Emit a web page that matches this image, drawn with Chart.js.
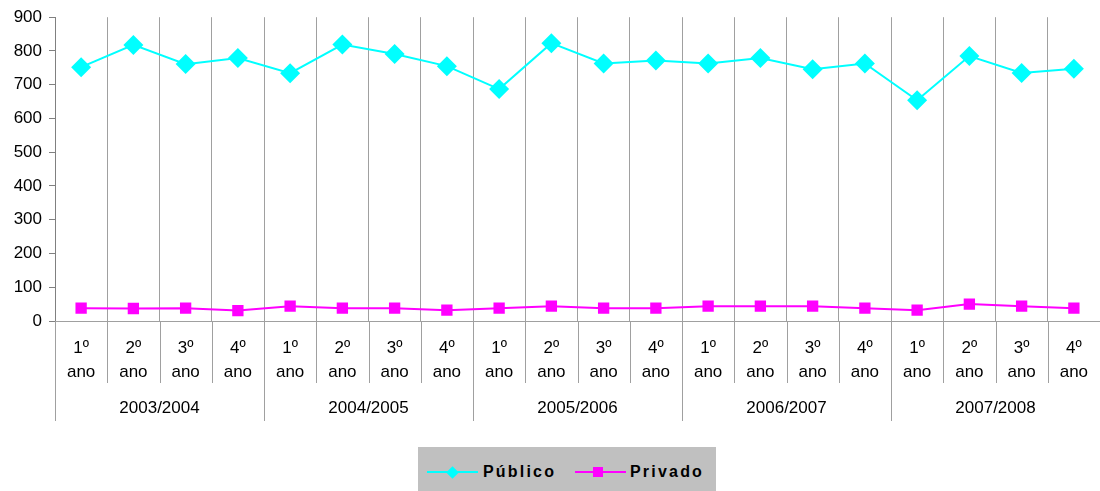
<!DOCTYPE html>
<html>
<head>
<meta charset="utf-8">
<script src="https://cdn.jsdelivr.net/npm/chart.js@4/dist/chart.umd.min.js"></script>
<style>
  html, body { margin: 0; padding: 0; background: #fff; }
  #wrap { position: relative; width: 1100px; height: 491px; }
  #legend {
    position: absolute; left: 418px; top: 447px; width: 298px; height: 44px;
    background: #c0c0c0; font-family: "Liberation Sans", Arial, sans-serif;
  }
  .lg-line { position: absolute; top: 24px; width: 51px; height: 2px; }
  .lg-mark { position: absolute; }
  .lg-text {
    position: absolute; top: 16px; font-size: 16px; font-weight: bold;
    letter-spacing: 2.2px; line-height: 18px; color: #000;
  }
</style>
</head>
<body>
<div id="wrap">
  <canvas id="chart" width="1100" height="491"></canvas>
  <div id="legend"></div>
</div>
<script>
// ── Data ──────────────────────────────────
const anos     = ['1º', '2º', '3º', '4º'];
const periodos = ['2003/2004', '2004/2005', '2005/2006', '2006/2007', '2007/2008'];
const publico  = [752, 818, 761, 779, 734, 819, 791, 755, 687, 823,
                  763, 772, 763, 779, 746, 763, 654, 785, 735, 747];
const privado  = [38, 37, 38, 31, 44, 38, 38, 32, 38, 44,
                  38, 38, 44, 44, 44, 38, 32, 50, 44, 38];
const yTicks   = [0, 100, 200, 300, 400, 500, 600, 700, 800, 900];

const labels = [];
periodos.forEach(() => anos.forEach(a => labels.push([a, 'ano'])));

const FONT = '"Liberation Sans", Arial, sans-serif';
const GRID = '#a0a0a0';

// ── Two-level category axis (separators + period labels) ──
const groupAxis = {
  id: 'groupAxis',
  afterDraw(chart) {
    const { ctx, scales: { x } } = chart;
    const n = labels.length;
    const step = (x.right - x.left) / n;
    const top = x.top;
    ctx.save();
    ctx.strokeStyle = GRID;
    ctx.lineWidth = 1;
    for (let i = 0; i <= n; i++) {
      const px = Math.round(x.getPixelForValue(i) - step / 2) + 0.5;
      const isGroup = i % anos.length === 0;
      ctx.beginPath();
      ctx.moveTo(px, top);
      ctx.lineTo(px, top + (isGroup ? 100 : 62));
      ctx.stroke();
    }
    ctx.fillStyle = '#000';
    ctx.font = '17px ' + FONT;
    ctx.textAlign = 'center';
    ctx.textBaseline = 'middle';
    periodos.forEach((p, g) => {
      const a = x.getPixelForValue(g * anos.length);
      const b = x.getPixelForValue(g * anos.length + anos.length - 1);
      ctx.fillText(p, (a + b) / 2, top + 87);
    });
    ctx.restore();
  }
};

const chart = new Chart(document.getElementById('chart'), {
  type: 'line',
  data: {
    labels,
    datasets: [
      {
        label: 'Público', data: publico,
        borderColor: '#00ffff', backgroundColor: '#00ffff', borderWidth: 2,
        pointStyle: 'rectRot', pointRadius: 10, pointHoverRadius: 10, pointBorderWidth: 0
      },
      {
        label: 'Privado', data: privado,
        borderColor: '#ff00ff', backgroundColor: '#ff00ff', borderWidth: 2,
        pointStyle: 'rect', pointRadius: 8, pointHoverRadius: 8, pointBorderWidth: 0
      }
    ]
  },
  options: {
    responsive: false,
    animation: false,
    layout: { autoPadding: false, padding: { top: 16, right: 0, bottom: 70, left: 0 } },
    plugins: { legend: { display: false }, tooltip: { enabled: false } },
    scales: {
      x: {
        offset: true,
        grid: { offset: true, color: GRID, drawTicks: false },
        border: { color: GRID },
        ticks: {
          color: '#000', padding: 16, maxRotation: 0, autoSkip: false,
          font: { family: FONT, size: 17, lineHeight: 1.38 }
        },
        afterFit: s => { s.height = 100; s.paddingLeft = 0; s.paddingRight = 0; }
      },
      y: {
        min: 0, max: 900,
        afterBuildTicks: s => { s.ticks = yTicks.map(v => ({ value: v })); },
        grid: { drawOnChartArea: false, color: '#808080', tickLength: 6 },
        border: { color: '#808080' },
        ticks: { color: '#000', padding: 7, font: { family: FONT, size: 17 } },
        afterFit: s => { s.width = 55; }
      }
    }
  },
  plugins: [groupAxis]
});

// ── HTML legend built from the datasets ───
const legendEl = document.getElementById('legend');
const lgPos = [{ line: 9, mark: 34, text: 65 }, { line: 157, mark: 180, text: 212 }];
chart.data.datasets.forEach((ds, i) => {
  const p = lgPos[i];
  const line = document.createElement('div');
  line.className = 'lg-line';
  line.style.left = p.line + 'px';
  line.style.background = ds.borderColor;
  legendEl.appendChild(line);

  const mark = document.createElement('div');
  mark.className = 'lg-mark';
  mark.style.background = ds.backgroundColor;
  if (ds.pointStyle === 'rectRot') {
    mark.style.width = mark.style.height = '9px';
    mark.style.left = (p.mark - 4.5) + 'px';
    mark.style.top = (25 - 4.5) + 'px';
    mark.style.transform = 'rotate(45deg)';
  } else {
    mark.style.width = mark.style.height = '10px';
    mark.style.left = (p.mark - 5) + 'px';
    mark.style.top = '20px';
  }
  legendEl.appendChild(mark);

  const txt = document.createElement('div');
  txt.className = 'lg-text';
  txt.style.left = p.text + 'px';
  txt.textContent = ds.label;
  legendEl.appendChild(txt);
});
</script>
</body>
</html>
